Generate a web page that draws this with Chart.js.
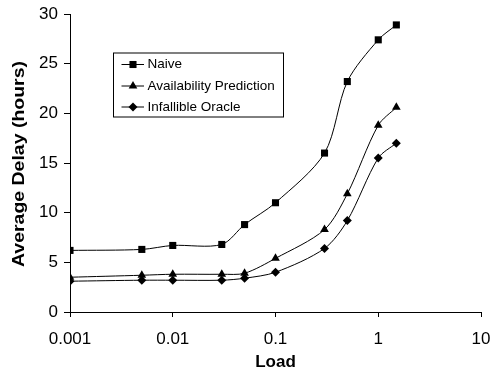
<!DOCTYPE html>
<html>
<head>
<meta charset="utf-8">
<script src="https://cdn.jsdelivr.net/npm/chart.js@4.4.1/dist/chart.umd.min.js"></script>
<style>
  html, body { margin: 0; padding: 0; background: #fff; }
  #wrap { width: 493px; height: 371px; position: relative; }
</style>
</head>
<body>
<div id="wrap"><canvas id="c" width="493" height="371"></canvas></div>
<script>
const loads = [0.001, 0.005, 0.01, 0.03, 0.05, 0.1, 0.3, 0.5, 1, 1.5];
const naive = [6.2, 6.3, 6.7, 6.8, 8.8, 11.0, 16.0, 23.2, 27.4, 28.9];
const availability = [3.5, 3.7, 3.8, 3.8, 3.9, 5.4, 8.3, 11.9, 18.8, 20.6];
const oracle = [3.1, 3.2, 3.2, 3.2, 3.4, 4.0, 6.4, 9.2, 15.5, 17.0];
const seriesNames = ['Naive', 'Availability Prediction', 'Infallible Oracle'];
const xTicks = [0.001, 0.01, 0.1, 1, 10];
const xTitle = 'Load';
const yTitle = 'Average Delay (hours)';

const FONT = "'Liberation Sans', Arial, sans-serif";

function pts(ys) { return loads.map((x, i) => ({x: x, y: ys[i]})); }

function ds(label, ys, style, r) {
  return {
    label: label,
    data: pts(ys),
    borderColor: '#000',
    backgroundColor: '#000',
    borderWidth: 1,
    pointStyle: style,
    pointRadius: r,
    pointBorderWidth: 0,
    pointBackgroundColor: '#000',
    tension: 0.3,
    fill: false
  };
}

const legendPlugin = {
  id: 'boxLegend',
  afterDatasetsDraw(chart) {
    const ctx = chart.ctx;
    const bx = 113, by = 52.5, bw = 170, bh = 64;
    ctx.save();
    ctx.fillStyle = '#fff';
    ctx.fillRect(bx, by, bw, bh);
    ctx.strokeStyle = '#000';
    ctx.lineWidth = 1;
    ctx.strokeRect(bx + 0.5, by + 0.5, bw, bh);
    const rows = [64, 85.5, 106.5];
    chart.data.datasets.forEach((d, i) => {
      const y = rows[i];
      ctx.strokeStyle = '#000';
      ctx.lineWidth = 1;
      ctx.beginPath();
      ctx.moveTo(121.5, y + 0.5);
      ctx.lineTo(144, y + 0.5);
      ctx.stroke();
      ctx.fillStyle = '#000';
      Chart.helpers.drawPoint(ctx, {pointStyle: d.pointStyle, radius: d.pointRadius, borderWidth: 0}, 133, y + 0.5);
      ctx.font = '13.5px ' + FONT;
      ctx.textBaseline = 'middle';
      ctx.textAlign = 'left';
      ctx.fillText(d.label, 147.5, y + 0.5);
    });
    ctx.restore();
  }
};

const yTitlePlugin = {
  id: 'yTitle',
  afterDraw(chart) {
    const ctx = chart.ctx;
    const area = chart.chartArea;
    ctx.save();
    ctx.font = 'bold 17px ' + FONT;
    const w = ctx.measureText(yTitle).width;
    const sx = 206 / w;
    ctx.translate(19.5, (area.top + area.bottom) / 2 + 1);
    ctx.rotate(-Math.PI / 2);
    ctx.scale(sx, 1);
    ctx.fillStyle = '#000';
    ctx.textAlign = 'center';
    ctx.textBaseline = 'middle';
    ctx.fillText(yTitle, 0, 0);
    ctx.restore();
  }
};

new Chart(document.getElementById('c'), {
  type: 'line',
  data: {
    datasets: [
      ds(seriesNames[0], naive, 'rect', 5),
      ds(seriesNames[1], availability, 'triangle', 5),
      ds(seriesNames[2], oracle, 'rectRot', 4.5)
    ]
  },
  options: {
    responsive: false,
    animation: false,
    devicePixelRatio: 1,
    layout: { padding: { top: 14, right: 12, left: 0, bottom: 0 } },
    plugins: { legend: { display: false }, tooltip: { enabled: false } },
    scales: {
      x: {
        type: 'logarithmic',
        min: 0.001,
        max: 10,
        afterBuildTicks(scale) { scale.ticks = xTicks.map(v => ({value: v})); },
        afterFit(scale) { scale.height = 59; scale.paddingLeft = 0; scale.paddingRight = 0; },
        ticks: {
          color: '#000',
          font: { family: FONT, size: 17 },
          padding: 12,
          autoSkip: false,
          maxRotation: 0,
          callback: (v) => String(v)
        },
        grid: { display: true, drawOnChartArea: false, drawTicks: true, tickLength: 5, color: '#000', lineWidth: 1 },
        border: { display: true, color: '#000', width: 1 },
        title: { display: true, text: xTitle, color: '#000', font: { family: FONT, size: 17, weight: 'bold' }, padding: { top: 0, bottom: -2 } }
      },
      y: {
        type: 'linear',
        min: 0,
        max: 30,
        afterFit(scale) { scale.width = 70; scale.paddingTop = 0; scale.paddingBottom = 0; },
        ticks: {
          stepSize: 5,
          color: '#000',
          font: { family: FONT, size: 17 },
          padding: 6
        },
        grid: { display: true, drawOnChartArea: false, drawTicks: true, tickLength: 6, color: '#000', lineWidth: 1 },
        border: { display: true, color: '#000', width: 1 },
        title: { display: false }
      }
    }
  },
  plugins: [legendPlugin, yTitlePlugin]
});
</script>
</body>
</html>
